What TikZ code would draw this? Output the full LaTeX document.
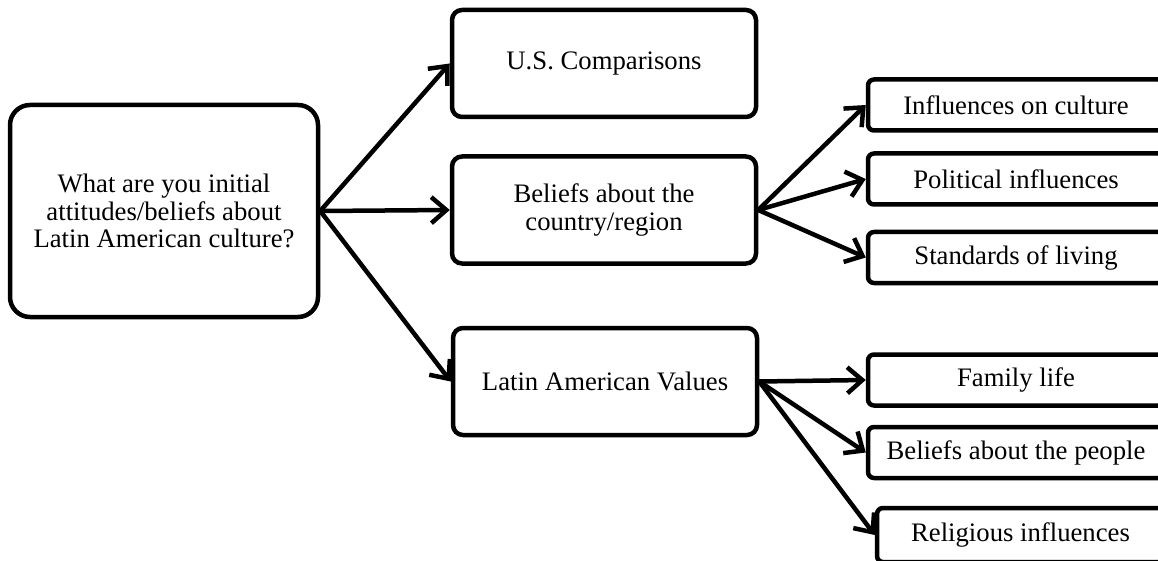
\documentclass[tikz,border=0pt]{standalone}
\usepackage{fontspec}
\setmainfont{Liberation Serif}
\usetikzlibrary{arrows.meta}
\begin{document}
\begin{tikzpicture}[x=1pt,y=-1pt,
  box/.style={draw, line width=4.5pt, align=center, inner sep=0pt,
    font=\fontsize{26.7}{27.5}\selectfont},
  mainbox/.style={box, rounded corners=20pt, minimum width=308pt, minimum height=212pt},
  midbox/.style={box, rounded corners=10pt, minimum width=304pt, minimum height=107pt},
  leafbox/.style={box, rounded corners=6pt, minimum width=296pt, minimum height=51pt},
  arr/.style={line width=4.5pt, line cap=round, line join=round,
    -{Straight Barb[length=15pt,width=26pt,line width=4.5pt]}}]
\useasboundingbox (0,0) rectangle (1158,561);
\clip (0,0) rectangle (1158,561);
\node[mainbox] (L) at (164,211) {What are you initial\\attitudes/beliefs about\\Latin American culture?};
\node[midbox] (US) at (604,63.5) {U.S. Comparisons};
\node[midbox] (BC) at (604,210) {Beliefs about the\\country/region};
\node[midbox] (LAV) at (605,381.5) {Latin American Values};
\node[leafbox] (INF) at (1016,105) {Influences on culture};
\node[leafbox] (POL) at (1016,179) {Political influences};
\node[leafbox] (STD) at (1016,257.5) {Standards of living};
\node[leafbox] (FAM) at (1016,380) {Family life};
\node[leafbox] (PPL) at (1016,452.5) {Beliefs about the people};
\node[leafbox, minimum width=287pt, minimum height=54pt] (REL) at (1020.5,535) {Religious influences};
\draw[arr] (L.east) -- (US.west);
\draw[arr] (L.east) -- (BC.west);
\draw[arr] (L.east) -- (LAV.west);
\draw[arr] (BC.east) -- (INF.west);
\draw[arr] (BC.east) -- (POL.west);
\draw[arr] (BC.east) -- (STD.west);
\draw[arr] (LAV.east) -- (FAM.west);
\draw[arr] (LAV.east) -- (PPL.west);
\draw[arr] (LAV.east) -- (REL.west);
\end{tikzpicture}
\end{document}
